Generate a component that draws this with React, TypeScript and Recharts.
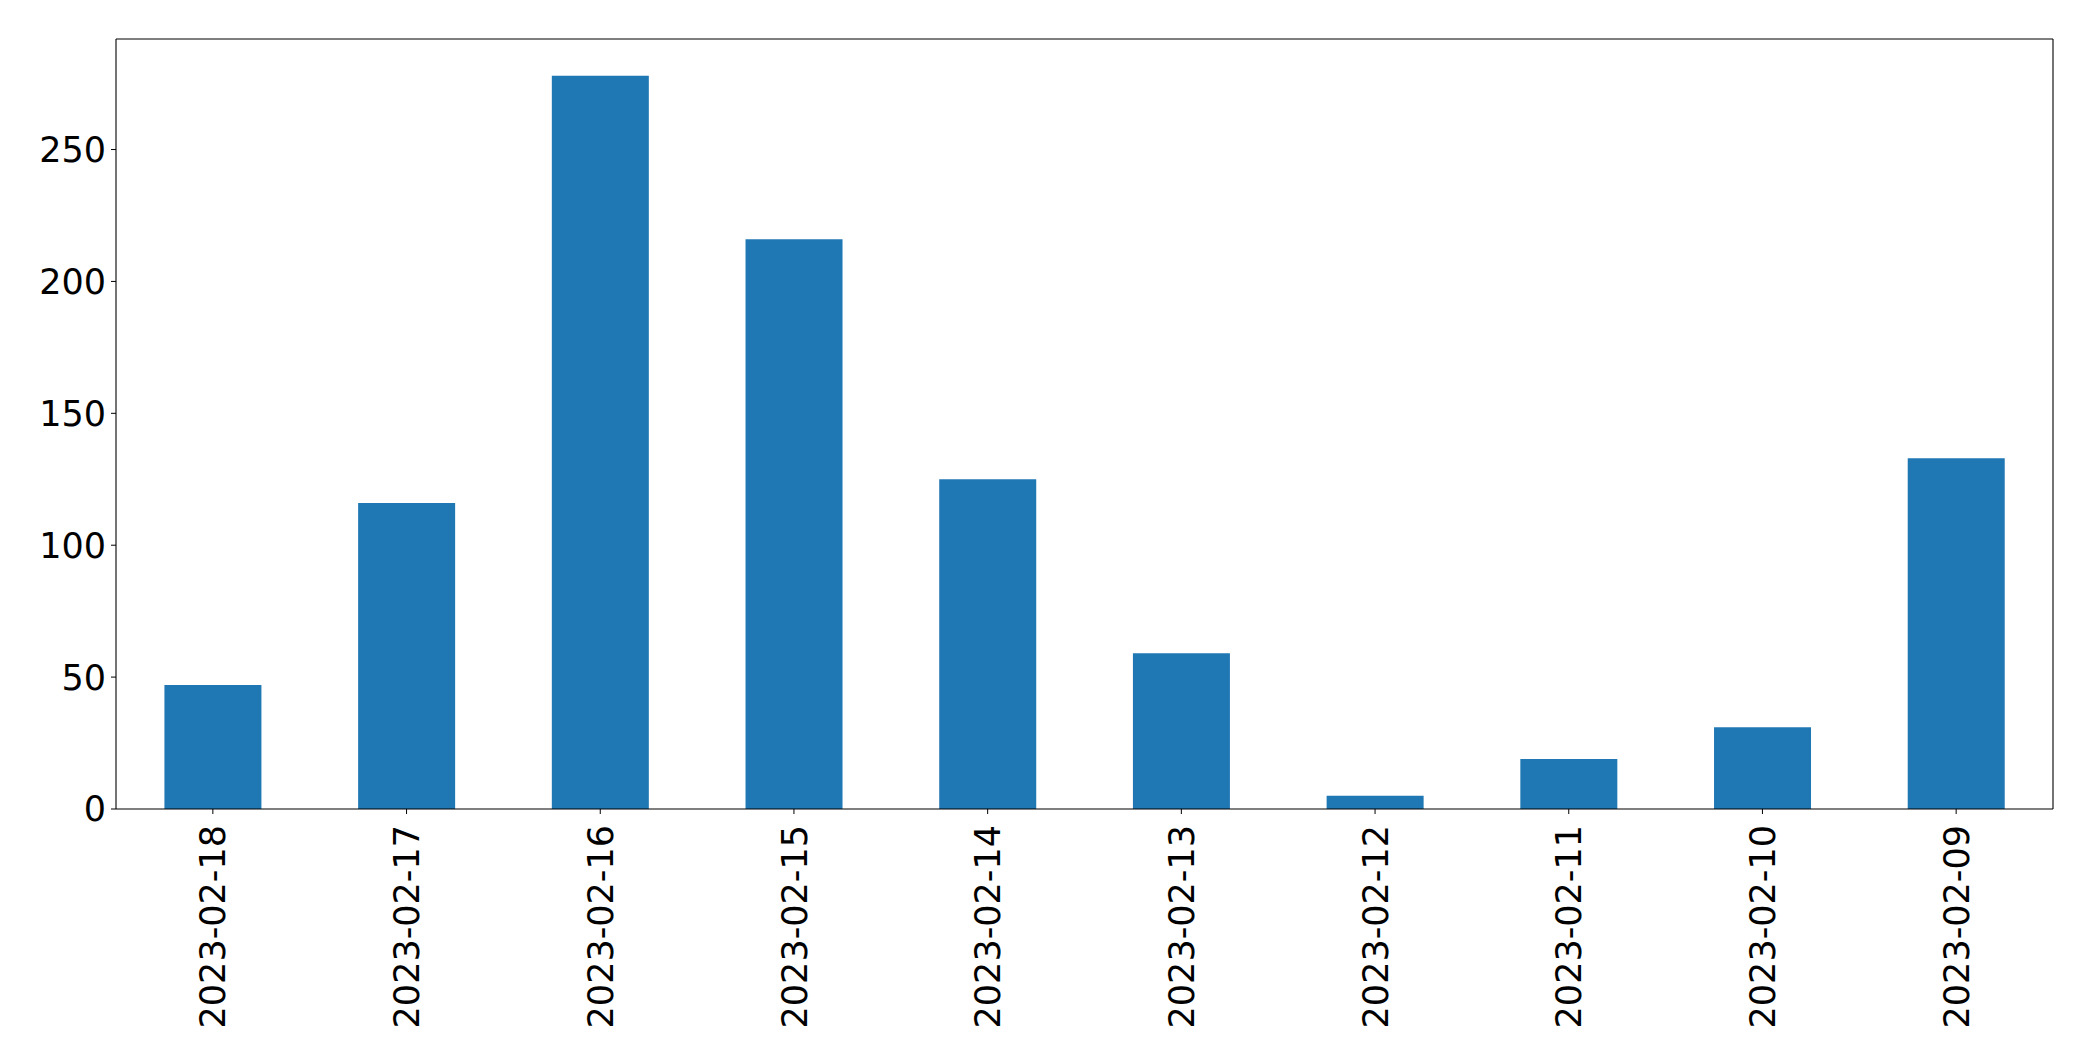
import React from 'react';
import { BarChart, Bar, XAxis, YAxis } from 'recharts';

const dates = [
  '2023-02-18', '2023-02-17', '2023-02-16', '2023-02-15', '2023-02-14',
  '2023-02-13', '2023-02-12', '2023-02-11', '2023-02-10', '2023-02-09',
];
const counts = [47, 116, 278, 216, 125, 59, 5, 19, 31, 133];
const yTicks = [0, 50, 100, 150, 200, 250];

const data = dates.map((d, i) => ({ date: d, count: counts[i] }));

const FONT = '"DejaVu Sans", sans-serif';

function DateTick(props: any) {
  const { x, y, payload } = props;
  return (
    <text
      x={x}
      y={y + 6}
      transform={`rotate(-90, ${x}, ${y + 6})`}
      textAnchor="end"
      dy="0.36em"
      fontSize={35}
      fontFamily={FONT}
      fill="#000"
    >
      {payload.value}
    </text>
  );
}

export default function App() {
  return (
    <div style={{ position: 'absolute', left: 0, top: 0, background: '#fff' }}>
      <BarChart
        width={2093}
        height={1061}
        data={data}
        margin={{ top: 38, right: 39, left: 0, bottom: 0 }}
        barCategoryGap="25%"
      >
        <XAxis
          dataKey="date"
          height={252}
          interval={0}
          tickSize={5}
          tickMargin={5}
          tickLine={{ stroke: '#000', strokeWidth: 1 }}
          axisLine={{ stroke: '#000', strokeWidth: 1.1 }}
          tick={<DateTick />}
        />
        <XAxis xAxisId="top" orientation="top" dataKey="date" height={1} tick={false} tickLine={false}
          axisLine={{ stroke: '#000', strokeWidth: 1.1 }} />
        <YAxis
          width={116}
          domain={[0, 291.9]}
          ticks={yTicks}
          tickSize={5}
          tickMargin={5}
          tickLine={{ stroke: '#000', strokeWidth: 1 }}
          axisLine={{ stroke: '#000', strokeWidth: 1.1 }}
          tick={{ fontSize: 35, fontFamily: FONT, fill: '#000' }}
        />
        <YAxis yAxisId="right" orientation="right" width={1} domain={[0, 291.9]} tick={false} tickLine={false}
          axisLine={{ stroke: '#000', strokeWidth: 1.1 }} />
        <Bar dataKey="count" fill="#1f77b4" isAnimationActive={false} />
      </BarChart>
    </div>
  );
}
